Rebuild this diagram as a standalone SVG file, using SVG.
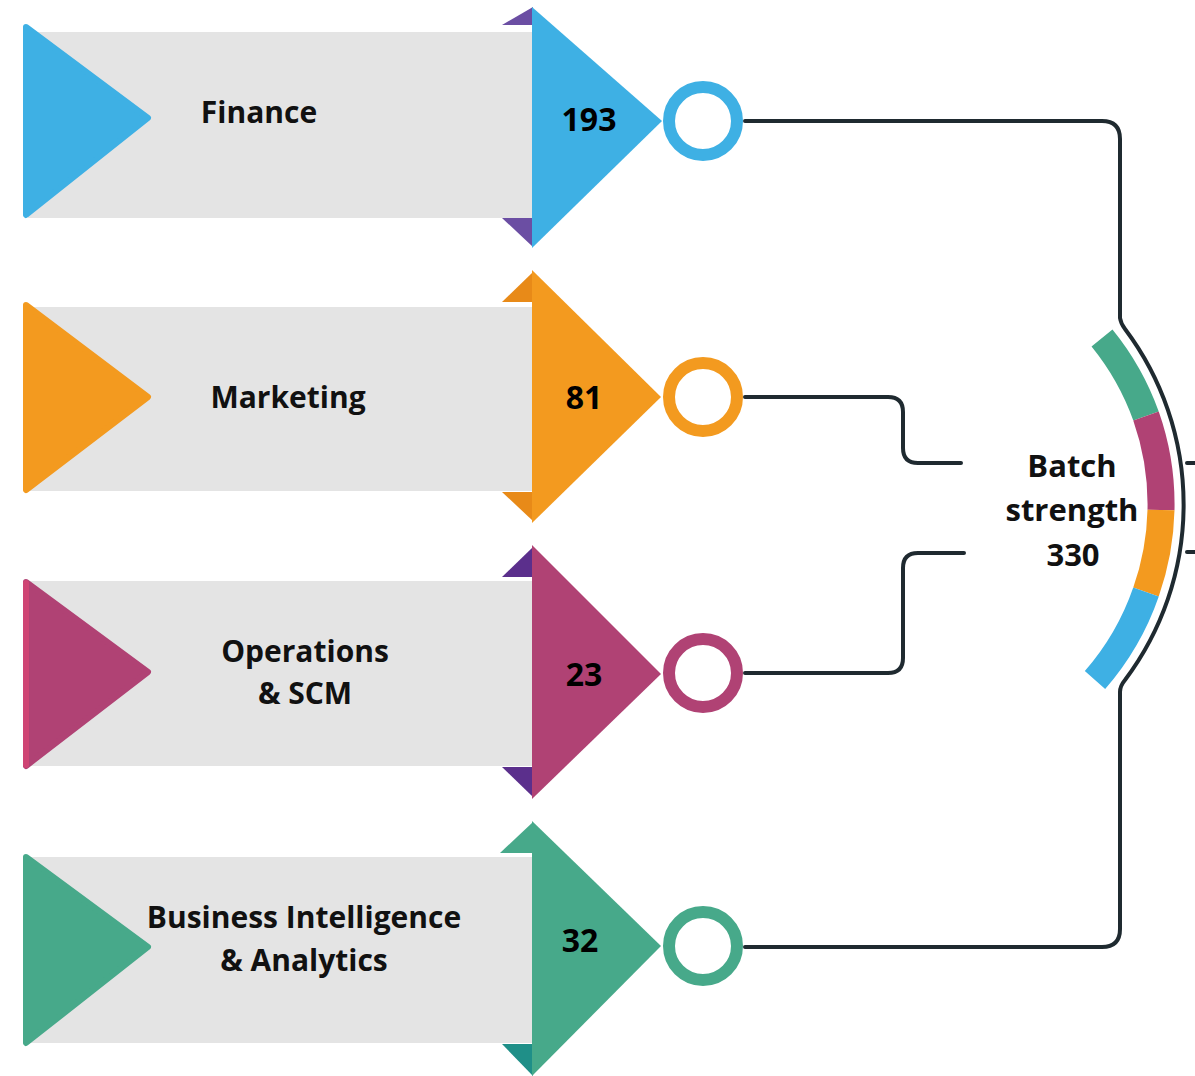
<svg xmlns="http://www.w3.org/2000/svg" width="1195" height="1076" viewBox="0 0 1195 1076">
<style>
.band{fill:#e4e4e4}
.lbl{font-family:"Open Sans","Liberation Sans",sans-serif;font-weight:700;font-size:30px;fill:#111;text-anchor:middle}
.num{font-family:"Open Sans","Liberation Sans",sans-serif;font-weight:700;font-size:32px;fill:#000;text-anchor:middle}
.conn{fill:none;stroke:#1f2a30;stroke-width:4;stroke-linecap:round;stroke-linejoin:round}
.ring{fill:#fff;stroke-width:12}
</style>
<rect width="1195" height="1076" fill="#fff"/>

<g id="finance">
<rect class="band" x="28" y="32" width="506" height="186"/>
<polygon points="26,27 148,118 26,215" fill="#3eb0e4" stroke="#3eb0e4" stroke-width="6" stroke-linejoin="round"/>
<polygon points="502,25 533,25 533,7" fill="#6b4ea3"/>
<polygon points="502,218 533,218 533,247" fill="#6b4ea3"/>
<polygon points="532,7 662,121 532,248" fill="#3eb0e4"/>
<circle class="ring" cx="703" cy="121" r="34" stroke="#3eb0e4"/>
<text class="lbl" x="259" y="123">Finance</text>
<text class="num" x="589" y="131">193</text>
</g>

<g id="marketing">
<rect class="band" x="28" y="307" width="506" height="184"/>
<polygon points="26,305 148,397 26,490" fill="#f39a1f" stroke="#f39a1f" stroke-width="6" stroke-linejoin="round"/>
<polygon points="502,302 533,302 533,272" fill="#e88a18"/>
<polygon points="502,492 533,492 533,521" fill="#e88a18"/>
<polygon points="532,270 661,397 532,523" fill="#f39a1f"/>
<circle class="ring" cx="703" cy="397" r="34" stroke="#f39a1f"/>
<text class="lbl" x="288" y="408">Marketing</text>
<text class="num" x="584" y="409">81</text>
</g>

<g id="operations">
<rect class="band" x="28" y="581" width="506" height="185"/>
<polygon points="26,582 148,672 26,766" fill="#b04274" stroke="#b04274" stroke-width="6" stroke-linejoin="round"/>
<rect x="23" y="580" width="6" height="188" rx="3" fill="#cf4474"/>
<polygon points="502,577 533,577 533,547" fill="#5b2f8c"/>
<polygon points="502,767 533,767 533,797" fill="#5b2f8c"/>
<polygon points="532,545 661,674 532,799" fill="#b04274"/>
<circle class="ring" cx="703" cy="673" r="34" stroke="#b04274"/>
<text class="lbl" x="305" y="662">Operations</text>
<text class="lbl" x="305" y="704">&amp; SCM</text>
<text class="num" x="584" y="686">23</text>
</g>

<g id="bi">
<rect class="band" x="28" y="857" width="506" height="186"/>
<polygon points="26,857 148,947 26,1043" fill="#47a98a" stroke="#47a98a" stroke-width="6" stroke-linejoin="round"/>
<polygon points="500,853 533,853 533,822" fill="#47a98a"/>
<polygon points="502,1044 533,1044 533,1076" fill="#1f8f88"/>
<polygon points="532,821 661,946 532,1076" fill="#47a98a"/>
<circle class="ring" cx="703" cy="946" r="34" stroke="#47a98a"/>
<text class="lbl" x="304" y="928">Business Intelligence</text>
<text class="lbl" x="304" y="971">&amp; Analytics</text>
<text class="num" x="580" y="952">32</text>
</g>

<g id="batch">
<path d="M1102,338 A266,266 0 0 1 1146,416" fill="none" stroke="#47a98a" stroke-width="27"/>
<path d="M1146,416 A266,266 0 0 1 1161,510" fill="none" stroke="#b04274" stroke-width="27"/>
<path d="M1161,510 A266,266 0 0 1 1146,592" fill="none" stroke="#f39a1f" stroke-width="27"/>
<path d="M1146,592 A266,266 0 0 1 1095,680" fill="none" stroke="#3eb0e4" stroke-width="27"/>
<text class="lbl" x="1072" y="477" style="font-size:31px">Batch</text>
<text class="lbl" x="1072" y="521" style="font-size:31px">strength</text>
<text class="lbl" x="1073" y="566" style="font-size:31px">330</text>
</g>

<g id="connectors">
<path class="conn" d="M745,121 H1102 Q1120,121 1120,139 V318 Q1121,324 1125,329 A292,292 0 0 1 1125,680 Q1120,686 1120,692 V929 Q1120,947 1102,947 H745"/>
<path class="conn" d="M745,397 H888 Q903,397 903,412 V448 Q903,463 918,463 H961"/>
<path class="conn" d="M745,673 H888 Q903,673 903,658 V568 Q903,553 918,553 H964"/>
<path class="conn" d="M1187,463 H1195"/>
<path class="conn" d="M1187,552 H1195"/>
</g>
</svg>
